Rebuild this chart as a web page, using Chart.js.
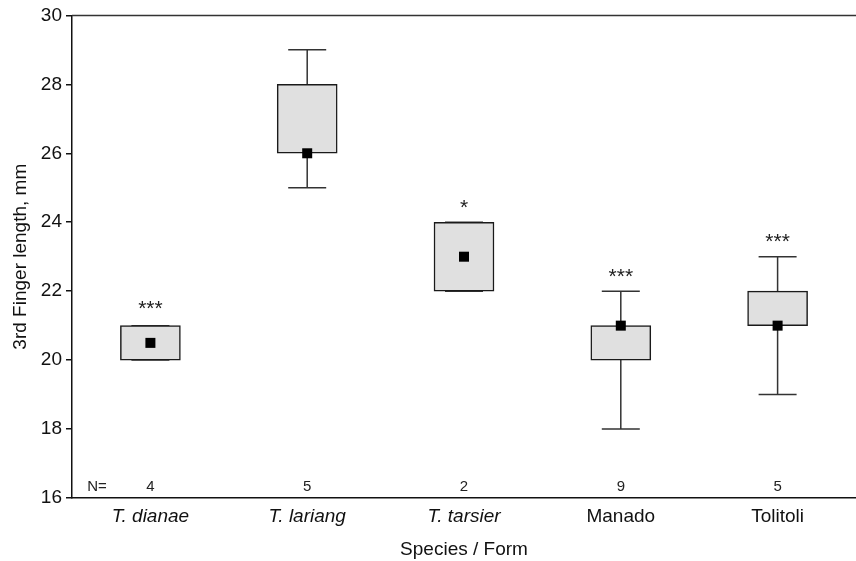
<!DOCTYPE html>
<html>
<head>
<meta charset="utf-8">
<script src="https://cdn.jsdelivr.net/npm/chart.js@4/dist/chart.umd.min.js"></script>
<style>
  html, body { margin: 0; padding: 0; background: #fff; }
  #wrap { width: 856px; height: 561px; }
</style>
</head>
<body>
<div id="wrap"><canvas id="boxChart"></canvas></div>
<script>
// categories and box plot values (mm)
const species = ['T. dianae', 'T. lariang', 'T. tarsier', 'Manado', 'Tolitoli'];
const italicNames = [true, true, true, false, false];
const lowerQuartile = [20, 26, 22, 20, 21];
const upperQuartile = [21, 28, 24, 21, 22];
const medians = [20.5, 26, 23, 21, 21];
const whiskerMin = [20, 25, 22, 18, 19];
const whiskerMax = [21, 29, 24, 22, 23];
const sampleSizes = [4, 5, 2, 9, 5];
const signif = ['***', '', '*', '***', '***'];
const signifAt = [21.55, null, 24.5, 22.5, 23.5];
const yTicks = [16, 18, 20, 22, 24, 26, 28, 30];

const FONT = "'Liberation Sans', Arial, sans-serif";

// whiskers under the boxes, median squares / labels on top
const boxExtras = {
    id: 'boxExtras',
    beforeDatasetsDraw(chart) {
        const ctx = chart.ctx;
        const x = chart.scales.x, y = chart.scales.y;
        ctx.save();
        ctx.strokeStyle = '#333';
        ctx.lineWidth = 1.5;
        for (let i = 0; i < species.length; i++) {
            const cx = x.getPixelForValue(i);
            const yMin = y.getPixelForValue(whiskerMin[i]);
            const yMax = y.getPixelForValue(whiskerMax[i]);
            ctx.beginPath();
            ctx.moveTo(cx, yMin); ctx.lineTo(cx, yMax);
            ctx.moveTo(cx - 19, yMin); ctx.lineTo(cx + 19, yMin);
            ctx.moveTo(cx - 19, yMax); ctx.lineTo(cx + 19, yMax);
            ctx.stroke();
        }
        ctx.restore();
    },
    afterDatasetsDraw(chart) {
        const ctx = chart.ctx;
        const x = chart.scales.x, y = chart.scales.y;
        ctx.save();
        ctx.fillStyle = '#000';
        for (let i = 0; i < medians.length; i++) {
            const cx = x.getPixelForValue(i);
            const cy = y.getPixelForValue(medians[i]);
            ctx.fillRect(cx - 5, cy - 5, 10, 10);
        }
        ctx.restore();
    },
    afterDraw(chart) {
        const ctx = chart.ctx;
        const x = chart.scales.x, y = chart.scales.y;
        const area = chart.chartArea;
        ctx.save();
        // top frame line
        ctx.strokeStyle = '#333';
        ctx.lineWidth = 1.5;
        ctx.beginPath();
        ctx.moveTo(area.left, area.top);
        ctx.lineTo(area.right, area.top);
        ctx.stroke();

        ctx.fillStyle = '#222';
        ctx.textAlign = 'center';
        ctx.textBaseline = 'middle';
        // significance stars
        ctx.font = '21px ' + FONT;
        for (let i = 0; i < species.length; i++) {
            if (!signif[i]) continue;
            ctx.fillText(signif[i], x.getPixelForValue(i), y.getPixelForValue(signifAt[i]) + 3);
        }
        // N= row
        ctx.font = '15px ' + FONT;
        const nY = y.getPixelForValue(16) - 11;
        ctx.fillText('N=', area.left + 25, nY);
        for (let i = 0; i < species.length; i++) {
            ctx.fillText(String(sampleSizes[i]), x.getPixelForValue(i), nY);
        }
        ctx.restore();
    }
};

new Chart(document.getElementById('boxChart'), {
    type: 'bar',
    data: {
        labels: species,
        datasets: [
            {
                label: 'Quartiles',
                data: species.map((s, i) => [lowerQuartile[i], upperQuartile[i]]),
                backgroundColor: '#e0e0e0',
                borderColor: '#1a1a1a',
                borderWidth: 1.5,
                borderSkipped: false,
                barThickness: 60
            }
        ]
    },
    options: {
        responsive: true,
        maintainAspectRatio: false,
        animation: false,
        layout: { padding: { top: 14, right: 0, left: 0, bottom: 0 } },
        plugins: {
            legend: { display: false },
            tooltip: { enabled: false }
        },
        scales: {
            x: {
                offset: true,
                grid: { display: false, drawTicks: false },
                border: { display: true, color: '#111', width: 1.5 },
                ticks: {
                    color: '#111',
                    padding: 7,
                    font: (c) => ({
                        family: FONT,
                        size: 19,
                        style: italicNames[c.index] ? 'italic' : 'normal'
                    })
                },
                title: {
                    display: true,
                    text: 'Species / Form',
                    color: '#111',
                    font: { family: FONT, size: 19 },
                    padding: { top: 5, bottom: 0 }
                },
                afterFit: (s) => { s.height = 63; }
            },
            y: {
                min: 16,
                max: 30,
                afterBuildTicks: (s) => { s.ticks = yTicks.map(v => ({ value: v })); },
                grid: { drawOnChartArea: false, drawTicks: true, tickLength: 6, color: '#111', lineWidth: 1.5 },
                border: { display: true, color: '#111', width: 1.5 },
                ticks: {
                    color: '#111',
                    padding: 4,
                    font: { family: FONT, size: 19 }
                },
                title: {
                    display: true,
                    text: '3rd Finger length, mm',
                    color: '#111',
                    font: { family: FONT, size: 19 },
                    padding: { top: 9, bottom: 0 }
                },
                afterFit: (s) => { s.width = 72; }
            }
        }
    },
    plugins: [boxExtras]
});
</script>
</body>
</html>
